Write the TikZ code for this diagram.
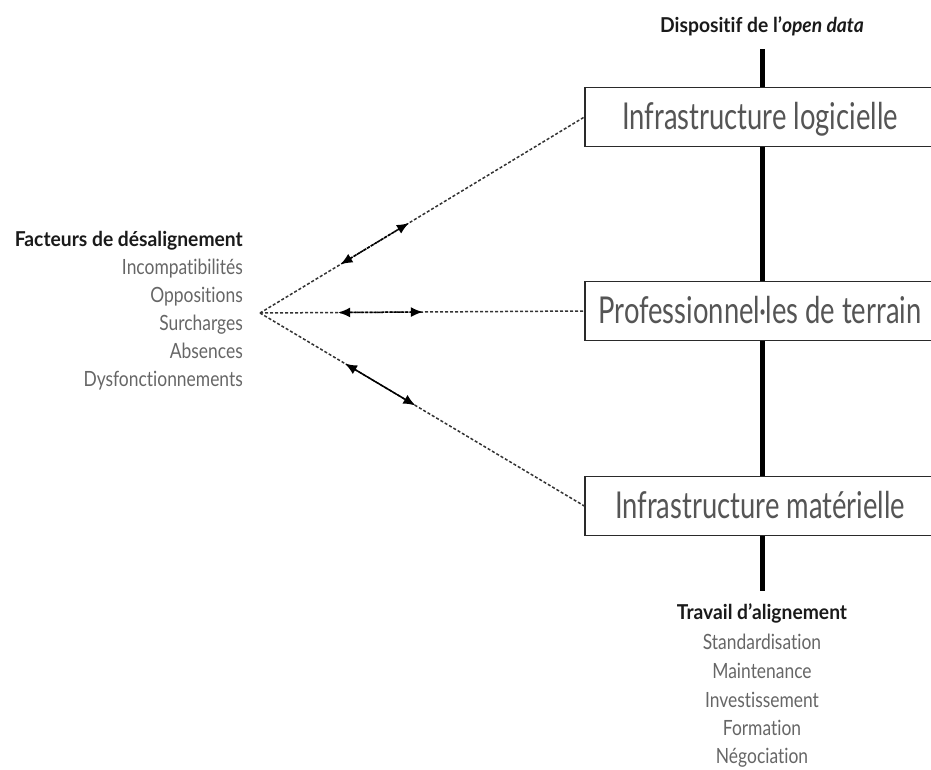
\documentclass[tikz,border=0pt]{standalone}
\usepackage{fontspec}
\setmainfont{Lato}[Ligatures=NoCommon]
\newfontfamily\boxfont{Lato}[FakeStretch=0.74, Ligatures=NoCommon]
\newfontfamily\itemfont{Lato}[FakeStretch=0.83, Ligatures=NoCommon]
\newfontfamily\labelfont{Lato}[FakeStretch=0.94, Ligatures=NoCommon]
\usetikzlibrary{arrows.meta,calc}
\definecolor{txtdark}{HTML}{1A1A1A}
\definecolor{itemgray}{HTML}{666666}
\definecolor{boxtext}{HTML}{555555}
\definecolor{boxline}{HTML}{2A2A2A}
\definecolor{linegray}{HTML}{333333}
\begin{document}
\begin{tikzpicture}[x=1pt,y=-1pt,
  lbl/.style={inner sep=0pt, text=txtdark, font=\labelfont\bfseries\fontsize{20.5}{23}\selectfont},
  itm/.style={inner sep=0pt, text=itemgray, font=\itemfont\fontsize{21}{24}\selectfont},
  layerbox/.style={draw=boxline, line width=1.3pt, fill=white, minimum width=350pt,
    minimum height=59pt, inner sep=0pt, text height=25pt, text depth=1pt,
    font=\boxfont\fontsize{37}{40}\selectfont, text=boxtext},
  link/.style={draw=linegray, line width=1.5pt, dash pattern=on 3pt off 2pt},
  bothtips/.style={draw=black, line width=1.5pt, {Latex[length=12pt,width=10pt]}-{Latex[length=12pt,width=10pt]}},
]
\useasboundingbox (0,0) rectangle (931,769);

% spine
\coordinate (spinetop) at (762,49);
\coordinate (spinebot) at (762,591);
\draw[line width=5pt] (spinetop) -- (spinebot);

% title
\node[lbl, anchor=base] (title) at (762,32) {Dispositif de l’\textit{open data}};

% layers
\node[layerbox] (b1) at (760,117) {Infrastructure logicielle};
\node[layerbox] (b2) at (760,311) {Professionnel·les de terrain};
\node[layerbox] (b3) at (760,506) {Infrastructure matérielle};

% left block
\node[lbl, anchor=base east] (l0) at (243,246) {Facteurs de désalignement};
\node[itm, anchor=base east] (l1) at (243,274) {Incompatibilités};
\node[itm, anchor=base east] (l2) at (243,302) {Oppositions};
\node[itm, anchor=base east] (l3) at (243,330) {Surcharges};
\node[itm, anchor=base east] (l4) at (243,358) {Absences};
\node[itm, anchor=base east] (l5) at (243,386) {Dysfonctionnements};

% bottom block
\node[lbl, anchor=base] (r0) at (762,619) {Travail d’alignement};
\node[itm, anchor=base] (r1) at (762,649) {Standardisation};
\node[itm, anchor=base] (r2) at (762,678) {Maintenance};
\node[itm, anchor=base] (r3) at (762,707) {Investissement};
\node[itm, anchor=base] (r4) at (762,735) {Formation};
\node[itm, anchor=base] (r5) at (762,763) {Négociation};

% connectors
\coordinate (f) at (260,313);
\draw[link] (f) -- (b1.west);
\draw[link] (f) -- (b2.west);
\draw[link] (f) -- (b3.west);

\draw[bothtips, dash pattern=on 3pt off 1pt] ($(f)!0.248!(b1.west)$) -- ($(f)!0.459!(b1.west)$);
\draw[bothtips, dash pattern=on 3pt off 1pt] ($(f)!0.241!(b2.west)$) -- ($(f)!0.502!(b2.west)$);
\draw[bothtips] ($(f)!0.262!(b3.west)$) -- ($(f)!0.479!(b3.west)$);
\end{tikzpicture}
\end{document}
